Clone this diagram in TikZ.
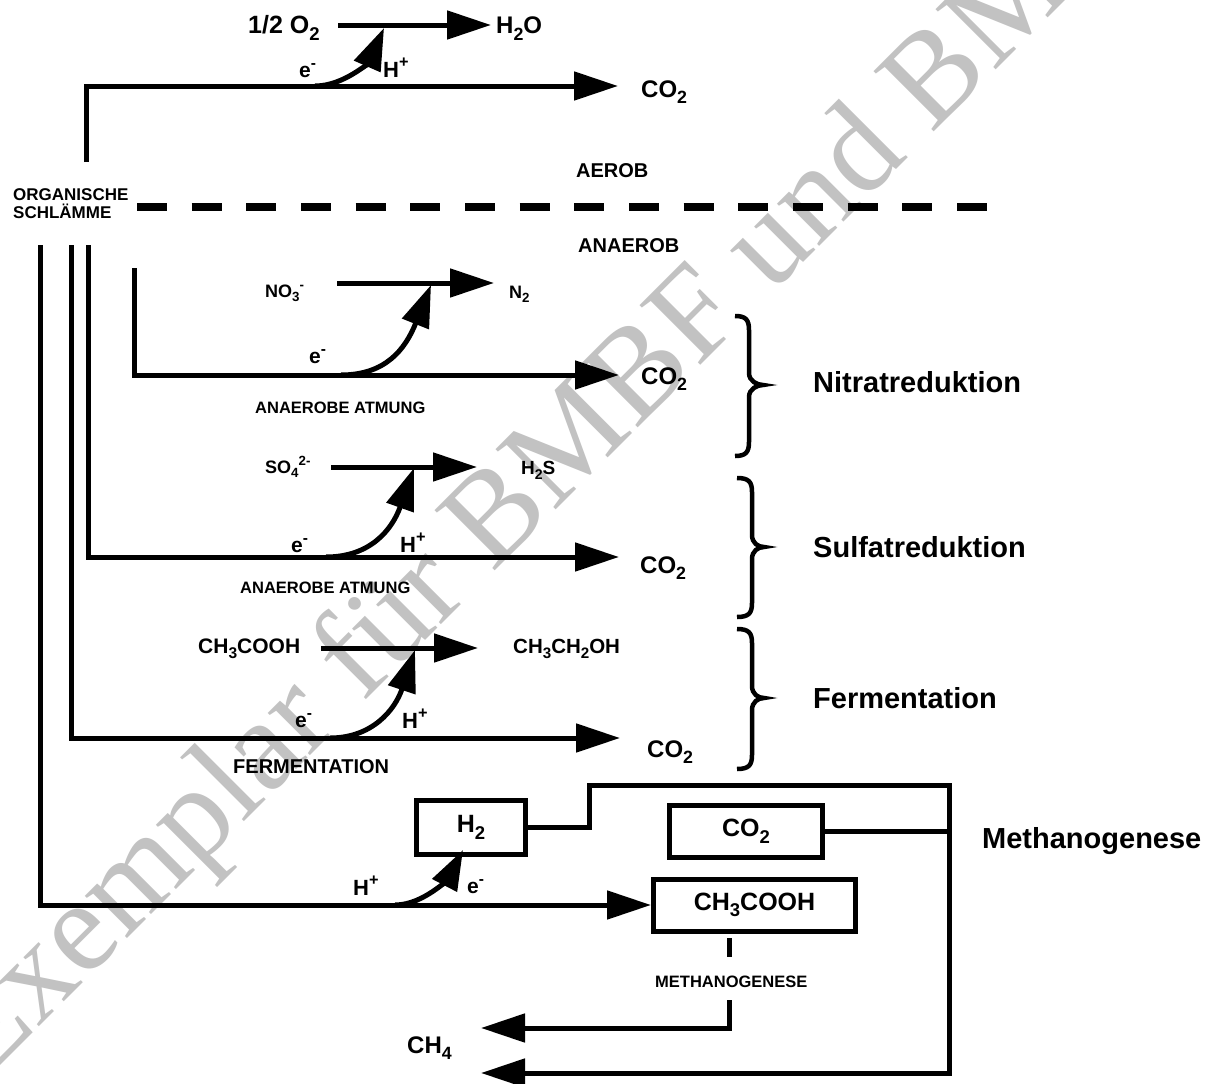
\documentclass[tikz,border=0pt]{standalone}
\usepackage{fontspec}
\setmainfont{Liberation Sans}
\newfontfamily\wmfont{Liberation Serif}
\usetikzlibrary{arrows.meta}
\newcommand{\fs}[1]{\fontsize{#1}{#1}\selectfont\bfseries}
\newcommand{\sub}[1]{\raisebox{-0.5ex}{\scalebox{0.74}{#1}}}
\newcommand{\sups}[1]{\raisebox{0.8ex}{\scalebox{0.74}{#1}}}
\newcommand{\mybrace}[6]{%
  \draw[brc] (#1,#4) .. controls ({#2-3},#4) and (#2,{#4+4}) .. (#2,{#4+14})
    -- (#2,{#5-12}) .. controls (#2,{#5-4}) and ({#3-6},#5) .. (#3,#5)
    .. controls ({#3-6},#5) and (#2,{#5+4}) .. (#2,{#5+12})
    -- (#2,{#6-14}) .. controls (#2,{#6-4}) and ({#2-3},#6) .. (#1,#6);}
\begin{document}
\begin{tikzpicture}[x=1pt,y=-1pt,
  ln/.style={line width=5pt},
  arr/.style={ln,-{Triangle[length=44pt,width=28pt]}},
  carr/.style={ln,-{Triangle[length=42pt,width=28pt]}},
  lbl/.style={inner sep=0pt,anchor=base west},
  box/.style={draw,line width=5pt,inner sep=0pt,font=\fs{25}},
  brc/.style={line width=4.5pt},
  wm/.style={inner sep=0pt,anchor=base west,rotate=45,text=black!24,font=\fontsize{130}{130}\selectfont\wmfont}
]
\useasboundingbox (0,0) rectangle (1211,1084);
\fill[white] (0,0) rectangle (1211,1084);
% watermark
\node[wm] (wmark) at (-18,1084) {Exemplar für BMBF und BMU};

% dashed separator
\coordinate (d1) at (137,207); \coordinate (d2) at (990,207);
\draw[line width=8pt,dash pattern=on 30pt off 24.67pt] (d1) -- (d2);

% aerobic
\coordinate (a0) at (86,162); \coordinate (a1) at (86,86); \coordinate (a2) at (618,86);
\draw[arr] (a0) -- (a1) -- (a2);
\coordinate (o1) at (338,25); \coordinate (o2) at (491,25);
\draw[arr] (o1) -- (o2);
\coordinate (c1s) at (315,86); \coordinate (c1t) at (384,28);
\draw[carr] (c1s) .. controls (345,86) and (370,60) .. (c1t);

% nitrate
\coordinate (n0) at (134,268); \coordinate (n1) at (134,375); \coordinate (n2) at (619,375);
\draw[arr] (n0) -- (n1) -- (n2);
\coordinate (nu1) at (337,283); \coordinate (nu2) at (494,283);
\draw[arr] (nu1) -- (nu2);
\coordinate (c2s) at (341,375); \coordinate (c2t) at (431,285);
\draw[carr] (c2s) .. controls (385,375) and (405,350) .. (c2t);

% sulfate
\coordinate (s0) at (88,245); \coordinate (s1) at (88,557); \coordinate (s2) at (619,557);
\draw[arr] (s0) -- (s1) -- (s2);
\coordinate (su1) at (331,467); \coordinate (su2) at (477,467);
\draw[arr] (su1) -- (su2);
\coordinate (c3s) at (326,557); \coordinate (c3t) at (414,468);
\draw[carr] (c3s) .. controls (370,557) and (392,530) .. (c3t);

% fermentation
\coordinate (f0) at (71,245); \coordinate (f1) at (71,738); \coordinate (f2) at (620,738);
\draw[arr] (f0) -- (f1) -- (f2);
\coordinate (fu1) at (321,648); \coordinate (fu2) at (478,648);
\draw[arr] (fu1) -- (fu2);
\coordinate (c4s) at (330,738); \coordinate (c4t) at (415,650);
\draw[carr] (c4s) .. controls (372,738) and (395,710) .. (c4t);

% methanogenesis boxes
\node[box,minimum width=109pt,minimum height=54pt] (h2) at (471,827.5) {H\sub{2}};
\node[box,minimum width=153pt,minimum height=52pt] (co2b) at (746,831.5) {CO\sub{2}};
\node[box,minimum width=202pt,minimum height=52pt] (acet) at (754.5,905) {CH\sub{3}COOH};

\coordinate (m0) at (40,245); \coordinate (m1) at (40,905);
\draw[arr] (m0) -- (m1) -- (acet.west);
\coordinate (c5s) at (395,905); \coordinate (c5t) at (463,850);
\draw[ln,-{Triangle[length=40pt,width=27pt]}] (c5s) .. controls (425,905) and (450,875) .. (c5t);

\coordinate (j2) at (589,785); \coordinate (j3) at (949,785);
\coordinate (j4) at (949,1073); \coordinate (ch4a) at (481,1073);
\draw[arr,line join=miter] (h2.east) -| (j2) -- (j3) -- (j4) -- (ch4a);
\draw[ln] (co2b.east) -- (co2b.east -| j3);

\coordinate (t1) at (729,938); \coordinate (t2) at (729,957);
\draw[ln] (t1) -- (t2);
\coordinate (t3) at (729,1000); \coordinate (t4) at (729,1028); \coordinate (ch4b) at (481,1028);
\draw[arr] (t3) -- (t4) -- (ch4b);

% braces
\mybrace{735}{749}{763}{316}{385}{456}
\mybrace{737}{752}{764}{478}{547}{617}
\mybrace{737}{752}{764}{629}{698}{769}

% labels
\node[lbl,font=\fs{25}] (half) at (248,34) {1/2 O\sub{2}};
\node[lbl,font=\fs{24}] (h2o) at (496,34) {H\sub{2}O};
\node[lbl,font=\fs{21}] (e1) at (299,77) {e\sups{-}};
\node[lbl,font=\fs{22}] (hp1) at (383,77) {H\sups{+}};
\node[lbl,font=\fs{24}] (co2a) at (641,97) {CO\sub{2}};
\node[lbl,font=\fs{20}] (aerob) at (576,177) {AEROB};
\node[lbl,font=\fs{20}] (anaerob) at (578,252) {ANAEROB};
\node[lbl,font=\fs{17}] (org1) at (13,200) {ORGANISCHE};
\node[lbl,font=\fs{17}] (org2) at (13,218) {SCHLÄMME};

\node[lbl,font=\fs{18}] (no3) at (265,297) {NO\sub{3}\sups{-}};
\node[lbl,font=\fs{18}] (nn2) at (509,298) {N\sub{2}};
\node[lbl,font=\fs{24}] (co2n) at (641,384) {CO\sub{2}};
\node[lbl,font=\fs{21}] (e2) at (309,363) {e\sups{-}};
\node[lbl,font=\fs{16.5}] (aa1) at (255,413) {ANAEROBE ATMUNG};

\node[lbl,font=\fs{18}] (so4) at (265,473) {SO\sub{4}\sups{2-}};
\node[lbl,font=\fs{19}] (h2s) at (521,474) {H\sub{2}S};
\node[lbl,font=\fs{21}] (e3) at (291,552) {e\sups{-}};
\node[lbl,font=\fs{22}] (hp3) at (400,552) {H\sups{+}};
\node[lbl,font=\fs{24}] (co2s) at (640,573) {CO\sub{2}};
\node[lbl,font=\fs{16.5}] (aa2) at (240,593) {ANAEROBE ATMUNG};

\node[lbl,font=\fs{21}] (ac1) at (198,653) {CH\sub{3}COOH};
\node[lbl,font=\fs{20.5}] (eth) at (513,653) {CH\sub{3}CH\sub{2}OH};
\node[lbl,font=\fs{21}] (e4) at (295,727) {e\sups{-}};
\node[lbl,font=\fs{22}] (hp4) at (402,728) {H\sups{+}};
\node[lbl,font=\fs{24}] (co2f) at (647,757) {CO\sub{2}};
\node[lbl,font=\fs{20}] (ferm) at (233,773) {FERMENTATION};

\node[lbl,font=\fs{22}] (hp5) at (353,895) {H\sups{+}};
\node[lbl,font=\fs{21}] (e5) at (467,893) {e\sups{-}};
\node[lbl,font=\fs{24}] (ch4) at (407,1053) {CH\sub{4}};
\node[lbl,font=\fs{16.5}] (meth) at (655,987) {METHANOGENESE};

\node[lbl,font=\fs{29}] (nitr) at (813,392) {Nitratreduktion};
\node[lbl,font=\fs{29}] (sulf) at (813,557) {Sulfatreduktion};
\node[lbl,font=\fs{29}] (fermL) at (813,708) {Fermentation};
\node[lbl,font=\fs{29}] (methL) at (982,848) {Methanogenese};
\end{tikzpicture}
\end{document}
